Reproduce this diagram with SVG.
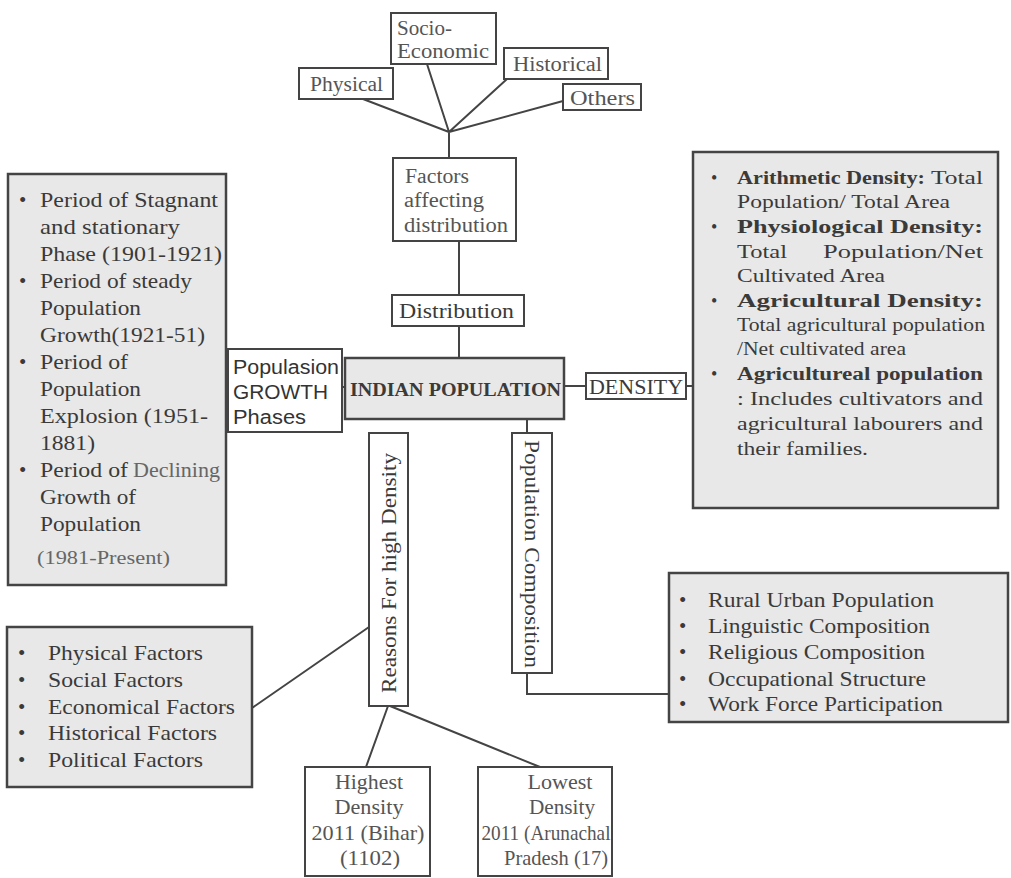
<svg xmlns="http://www.w3.org/2000/svg" width="1011" height="878" viewBox="0 0 1011 878">
<style>
.bx{fill:#fff;stroke:#444;stroke-width:2}
.sh{fill:#e8e8e8;stroke:#444;stroke-width:2.5}
.t{font-family:"Liberation Serif","Times New Roman",serif;fill:#3a3a3a}
.lt{font-family:"Liberation Serif","Times New Roman",serif;fill:#555}
.ss{font-family:"Liberation Sans",Arial,sans-serif;fill:#333}
.b{font-weight:bold}
.c{text-anchor:middle}
.ln{stroke:#444;stroke-width:2;fill:none}
</style>
<rect width="1011" height="878" fill="#fff"/>
<g id="connectors">
<path class="ln" d="M363,99 L449,132 M427,64 L449,132 M507,79 L449,132 M563,101 L449,132 M449,132 V158"/>
<path class="ln" d="M459,241 V295 M459,326 V358 M342,387 H345 M564,386 H586 M686,386 H693"/>
<path class="ln" d="M527,419 V433 M527,673 V694 H669"/>
<path class="ln" d="M252,708 L369,627 M388,706 L366,767 M390,706 L540,767"/>
</g>
<g id="physical"><rect class="bx" x="299" y="68" width="94" height="31"/><text class="lt" x="310" y="91" font-size="20" textLength="73" lengthAdjust="spacingAndGlyphs">Physical</text></g>
<g id="socio"><rect class="bx" x="391" y="13" width="105" height="51"/><text class="lt" x="397" y="35" font-size="20" textLength="55" lengthAdjust="spacingAndGlyphs">Socio-</text><text class="lt" x="397" y="58" font-size="20" textLength="92" lengthAdjust="spacingAndGlyphs">Economic</text></g>
<g id="historical"><rect class="bx" x="504" y="48" width="104" height="31"/><text class="lt" x="513" y="71" font-size="20" textLength="89" lengthAdjust="spacingAndGlyphs">Historical</text></g>
<g id="others"><rect class="bx" x="563" y="84" width="78" height="26"/><text class="lt" x="570" y="105" font-size="20" textLength="65" lengthAdjust="spacingAndGlyphs">Others</text></g>
<g id="factors"><rect class="bx" x="393" y="158" width="123" height="83"/><text class="lt" x="405" y="183" font-size="20" textLength="64" lengthAdjust="spacingAndGlyphs">Factors</text><text class="lt" x="404" y="207" font-size="20" textLength="80" lengthAdjust="spacingAndGlyphs">affecting</text><text class="lt" x="404" y="232" font-size="20" textLength="104" lengthAdjust="spacingAndGlyphs">distribution</text></g>
<g id="distribution"><rect class="bx" x="392" y="295" width="132" height="31"/><text class="t" x="399" y="318" font-size="20" textLength="115" lengthAdjust="spacingAndGlyphs">Distribution</text></g>
<g id="indian"><rect class="sh" x="345" y="358" width="219" height="61"/><text class="t b" x="350" y="396" font-size="19" textLength="211" lengthAdjust="spacingAndGlyphs">INDIAN POPULATION</text></g>
<g id="growth"><rect class="bx" x="228" y="349" width="114" height="83"/><text class="ss" x="233" y="374" font-size="20" textLength="106" lengthAdjust="spacingAndGlyphs">Populasion</text><text class="ss" x="233" y="399" font-size="20" textLength="95" lengthAdjust="spacingAndGlyphs">GROWTH</text><text class="ss" x="233" y="424" font-size="20" textLength="73" lengthAdjust="spacingAndGlyphs">Phases</text></g>
<g id="density"><rect class="bx" x="586" y="373" width="100" height="26"/><text class="t" x="589" y="394" font-size="20" textLength="94" lengthAdjust="spacingAndGlyphs">DENSITY</text></g>
<g id="phases-list"><rect class="sh" x="8" y="174" width="218" height="411"/>
<g class="t" font-size="21">
<text x="19" y="207">•</text><text x="40" y="207" textLength="178" lengthAdjust="spacingAndGlyphs">Period of Stagnant</text>
<text x="40" y="234" textLength="140" lengthAdjust="spacingAndGlyphs">and stationary</text>
<text x="40" y="261" textLength="182" lengthAdjust="spacingAndGlyphs">Phase (1901-1921)</text>
<text x="19" y="288">•</text><text x="40" y="288" textLength="152" lengthAdjust="spacingAndGlyphs">Period of steady</text>
<text x="40" y="315" textLength="101" lengthAdjust="spacingAndGlyphs">Population</text>
<text x="40" y="342" textLength="165" lengthAdjust="spacingAndGlyphs">Growth(1921-51)</text>
<text x="19" y="369">•</text><text x="40" y="369" textLength="88" lengthAdjust="spacingAndGlyphs">Period of</text>
<text x="40" y="396" textLength="101" lengthAdjust="spacingAndGlyphs">Population</text>
<text x="40" y="423" textLength="168" lengthAdjust="spacingAndGlyphs">Explosion (1951-</text>
<text x="40" y="450" textLength="55" lengthAdjust="spacingAndGlyphs">1881)</text>
<text x="19" y="477">•</text><text x="40" y="477" textLength="88" lengthAdjust="spacingAndGlyphs">Period of</text><text x="133" y="477" textLength="87" lengthAdjust="spacingAndGlyphs" fill="#666">Declining</text>
<text x="40" y="504" textLength="96" lengthAdjust="spacingAndGlyphs">Growth of</text>
<text x="40" y="531" textLength="101" lengthAdjust="spacingAndGlyphs">Population</text>
<text x="37" y="564" textLength="133" lengthAdjust="spacingAndGlyphs" fill="#666" font-size="19">(1981-Present)</text>
</g></g>
<g id="density-list"><rect class="sh" x="693" y="152" width="305" height="356"/>
<g class="t" font-size="18">
<text x="711" y="184">•</text><text class="b" x="737" y="184" textLength="188" lengthAdjust="spacingAndGlyphs">Arithmetic Density:</text><text x="931" y="184" textLength="52" lengthAdjust="spacingAndGlyphs">Total</text>
<text x="737" y="208" textLength="213" lengthAdjust="spacingAndGlyphs">Population/ Total Area</text>
<text x="711" y="233">•</text><text class="b" x="737" y="233" textLength="246" lengthAdjust="spacingAndGlyphs">Physiological Density:</text>
<text x="737" y="258" textLength="50" lengthAdjust="spacingAndGlyphs">Total</text><text x="823" y="258" textLength="160" lengthAdjust="spacingAndGlyphs">Population/Net</text>
<text x="737" y="282" textLength="148" lengthAdjust="spacingAndGlyphs">Cultivated Area</text>
<text x="711" y="307">•</text><text class="b" x="737" y="307" textLength="246" lengthAdjust="spacingAndGlyphs">Agricultural Density:</text>
<text x="737" y="331" textLength="248" lengthAdjust="spacingAndGlyphs">Total agricultural population</text>
<text x="737" y="355" textLength="169" lengthAdjust="spacingAndGlyphs">/Net cultivated area</text>
<text x="711" y="380">•</text><text class="b" x="737" y="380" textLength="246" lengthAdjust="spacingAndGlyphs">Agricultureal population</text>
<text x="737" y="405" textLength="246" lengthAdjust="spacingAndGlyphs">: Includes cultivators and</text>
<text x="737" y="430" textLength="246" lengthAdjust="spacingAndGlyphs">agricultural labourers and</text>
<text x="737" y="455" textLength="131" lengthAdjust="spacingAndGlyphs">their families.</text>
</g></g>
<g id="reasons"><rect class="bx" x="369" y="433" width="39" height="273"/><text class="t c" transform="translate(396,573) rotate(-90)" font-size="21" textLength="240" lengthAdjust="spacingAndGlyphs">Reasons For high Density</text></g>
<g id="composition"><rect class="bx" x="512" y="433" width="40" height="240"/><text class="t c" transform="translate(525,554) rotate(90)" font-size="21" textLength="228" lengthAdjust="spacingAndGlyphs">Population Composition</text></g>
<g id="factors-list"><rect class="sh" x="7" y="627" width="245" height="160"/>
<g class="t" font-size="21">
<text x="18" y="660">•</text><text x="48" y="660" textLength="155" lengthAdjust="spacingAndGlyphs">Physical Factors</text>
<text x="18" y="687">•</text><text x="48" y="687" textLength="135" lengthAdjust="spacingAndGlyphs">Social Factors</text>
<text x="18" y="714">•</text><text x="48" y="714" textLength="187" lengthAdjust="spacingAndGlyphs">Economical Factors</text>
<text x="18" y="740">•</text><text x="48" y="740" textLength="169" lengthAdjust="spacingAndGlyphs">Historical Factors</text>
<text x="18" y="767">•</text><text x="48" y="767" textLength="155" lengthAdjust="spacingAndGlyphs">Political Factors</text>
</g></g>
<g id="composition-list"><rect class="sh" x="669" y="573" width="339" height="149"/>
<g class="t" font-size="21">
<text x="679" y="607">•</text><text x="708" y="607" textLength="226" lengthAdjust="spacingAndGlyphs">Rural Urban Population</text>
<text x="679" y="633">•</text><text x="708" y="633" textLength="222" lengthAdjust="spacingAndGlyphs">Linguistic Composition</text>
<text x="679" y="659">•</text><text x="708" y="659" textLength="217" lengthAdjust="spacingAndGlyphs">Religious Composition</text>
<text x="679" y="686">•</text><text x="708" y="686" textLength="218" lengthAdjust="spacingAndGlyphs">Occupational Structure</text>
<text x="679" y="711">•</text><text x="708" y="711" textLength="235" lengthAdjust="spacingAndGlyphs">Work Force Participation</text>
</g></g>
<g id="highest"><rect class="bx" x="305" y="767" width="125" height="109"/>
<g class="lt c" font-size="21"><text x="369" y="789" textLength="68" lengthAdjust="spacingAndGlyphs">Highest</text><text x="369" y="814" textLength="69" lengthAdjust="spacingAndGlyphs">Density</text><text x="368" y="840" textLength="113" lengthAdjust="spacingAndGlyphs">2011 (Bihar)</text><text x="370" y="865" textLength="60" lengthAdjust="spacingAndGlyphs">(1102)</text></g></g>
<g id="lowest"><rect class="bx" x="478" y="767" width="134" height="109"/>
<g class="lt c" font-size="21"><text x="560" y="789" textLength="65" lengthAdjust="spacingAndGlyphs">Lowest</text><text x="562" y="814" textLength="66" lengthAdjust="spacingAndGlyphs">Density</text><text x="546" y="840" textLength="129" lengthAdjust="spacingAndGlyphs">2011 (Arunachal</text><text x="556" y="865" textLength="104" lengthAdjust="spacingAndGlyphs">Pradesh (17)</text></g></g>
</svg>
